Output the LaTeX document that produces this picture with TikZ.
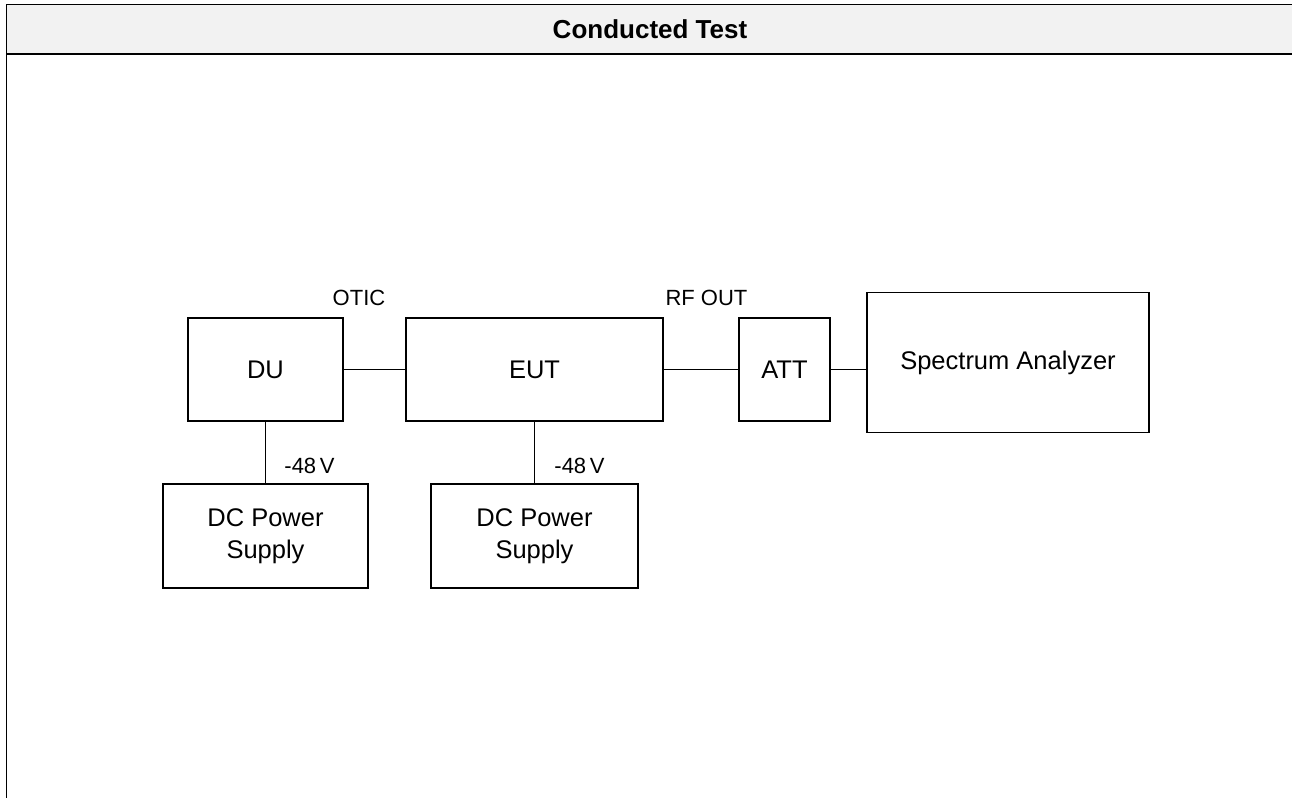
\documentclass[tikz,border=0pt]{standalone}
\usepackage{fontspec}
\setmainfont{Liberation Sans}
\definecolor{hdr}{HTML}{F2F2F2}
\begin{document}
\begin{tikzpicture}[x=1pt,y=-1pt,
  blk/.style={draw=black, line width=1.3pt, inner sep=0pt, font=\fontsize{25.5}{32}\selectfont, align=center},
  lbl/.style={inner sep=0pt, font=\fontsize{22}{26}\selectfont},
  wire/.style={draw=black, line width=1.1pt}]
\useasboundingbox (0,0) rectangle (1292,798);
\fill[white] (0,0) rectangle (1292,798);
% header
\fill[hdr] (6.5,4.5) rectangle (1292,54);
\draw[line width=1.2pt] (6.5,4.5) -- (1292,4.5);
\draw[line width=2.2pt] (6.5,54) -- (1292,54);
\draw[line width=1.6pt] (6.5,4) -- (6.5,798);
\node[inner sep=0pt, font=\bfseries\fontsize{26}{31}\selectfont] (title) at (650,29.5) {Conducted Test};
% blocks
\node[blk, minimum width=155pt, minimum height=103pt] (du) at (265.5,369.5) {DU};
\node[blk, minimum width=257pt, minimum height=103pt] (eut) at (534.5,369.5) {EUT};
\node[blk, minimum width=91pt, minimum height=103pt] (att) at (784.5,369.5) {ATT};
\node[blk, minimum width=282pt, minimum height=140pt] (sa) at (1008,362.7) {Spectrum Analyzer};
\node[blk, minimum width=205pt, minimum height=104pt] (ps1) at (265.5,536) {DC Power\\Supply};
\node[blk, minimum width=207pt, minimum height=104pt] (ps2) at (534.5,536) {DC Power\\Supply};
% connectors
\draw[wire] (du.east) -- (eut.west);
\draw[wire] (eut.east) -- (att.west);
\draw[wire] (att.east) -- (att.east -| sa.west);
\draw[wire] (du.south) -- (ps1.north);
\draw[wire] (eut.south) -- (ps2.north);
% labels
\node[lbl] (otic) at (359,298) {OTIC};
\node[lbl] (rfout) at (706.5,298) {RF OUT};
\node[lbl] (v1) at (309.5,465.5) {-48\,V};
\node[lbl] (v2) at (579.5,465.5) {-48\,V};
\end{tikzpicture}
\end{document}
